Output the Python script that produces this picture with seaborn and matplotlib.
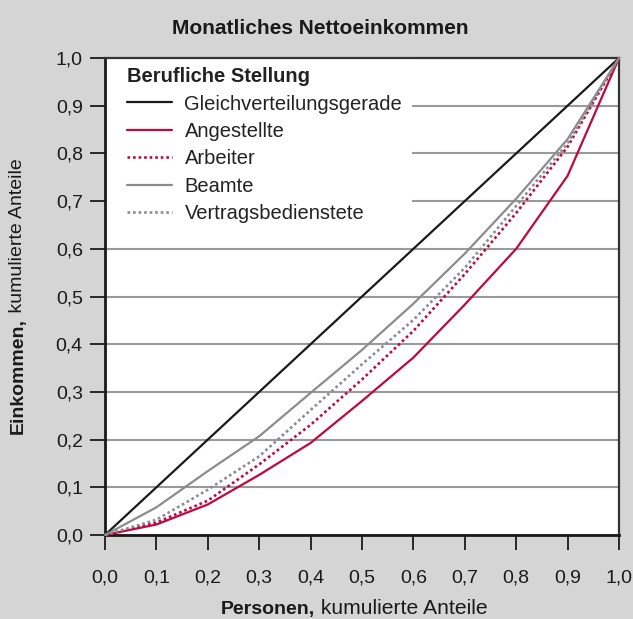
import matplotlib
matplotlib.use("Agg")
import matplotlib.pyplot as plt
import seaborn as sns
import pandas as pd
from matplotlib.patches import Rectangle

# ---- data ----
anteile = [0.0, 0.1, 0.2, 0.3, 0.4, 0.5, 0.6, 0.7, 0.8, 0.9, 1.0]
gleichverteilung = [0.0, 0.1, 0.2, 0.3, 0.4, 0.5, 0.6, 0.7, 0.8, 0.9, 1.0]
angestellte = [0.0, 0.022, 0.064, 0.126, 0.193, 0.281, 0.372, 0.483, 0.600, 0.753, 1.0]
arbeiter = [0.0, 0.026, 0.072, 0.148, 0.231, 0.326, 0.428, 0.547, 0.675, 0.814, 1.0]
beamte = [0.0, 0.058, 0.134, 0.207, 0.298, 0.388, 0.485, 0.590, 0.705, 0.830, 1.0]
vertragsbedienstete = [0.0, 0.032, 0.095, 0.165, 0.262, 0.358, 0.451, 0.560, 0.690, 0.821, 1.0]

series_names = ["Gleichverteilungsgerade", "Angestellte", "Arbeiter", "Beamte", "Vertragsbedienstete"]
series_values = [gleichverteilung, angestellte, arbeiter, beamte, vertragsbedienstete]
tick_values = [0.0, 0.1, 0.2, 0.3, 0.4, 0.5, 0.6, 0.7, 0.8, 0.9, 1.0]
tick_labels = ["0,0", "0,1", "0,2", "0,3", "0,4", "0,5", "0,6", "0,7", "0,8", "0,9", "1,0"]

title = "Monatliches Nettoeinkommen"
legend_title = "Berufliche Stellung"

# ---- styles ----
RED = "#c0073f"
styles = {
    "Gleichverteilungsgerade": dict(color="#1a1a1a", linestyle="-", linewidth=1.6),
    "Angestellte": dict(color=RED, linestyle="-", linewidth=1.6),
    "Arbeiter": dict(color=RED, linestyle=(0, (1.0, 1.1)), linewidth=1.9),
    "Beamte": dict(color="#8c8c8c", linestyle="-", linewidth=1.6),
    "Vertragsbedienstete": dict(color="#8c8c8c", linestyle=(0, (1.0, 1.1)), linewidth=1.9),
}

BG = "#d5d5d5"
TXT = "#1a1a1a"

sns.set_theme(style="white")
plt.rcParams["font.family"] = ["Liberation Sans", "DejaVu Sans"]

W, H = 633, 619
fig = plt.figure(figsize=(W / 100, H / 100), dpi=100, facecolor=BG)
ax = fig.add_axes([105 / W, 1 - 535 / H, (619 - 105) / W, (535 - 58) / H])
ax.set_facecolor("white")

df = pd.DataFrame({"x": anteile * len(series_names),
                   "y": sum(series_values, []),
                   "serie": sum([[n] * len(anteile) for n in series_names], [])})

for name in series_names:
    sub = df[df["serie"] == name]
    sns.lineplot(data=sub, x="x", y="y", ax=ax, label=name, clip_on=False,
                 zorder=3, **styles[name])

ax.set_xlim(0, 1)
ax.set_ylim(0, 1)
ax.set_xticks(tick_values)
ax.set_xticklabels(tick_labels)
ax.set_yticks(tick_values)
ax.set_yticklabels(tick_labels)
ax.set_xlabel("")
ax.set_ylabel("")

ax.yaxis.grid(True, color="#9a9a9a", linewidth=1.5, zorder=0.5)
ax.xaxis.grid(False)
ax.set_axisbelow(True)

ax.tick_params(axis="x", direction="out", length=11, width=1.3, color=TXT,
               labelsize=14, labelcolor=TXT, pad=14, bottom=True)
ax.tick_params(axis="y", direction="out", length=11, width=1.3, color=TXT,
               labelsize=14, labelcolor=TXT, pad=5, left=True)
for s in ax.spines.values():
    s.set_visible(True)
    s.set_color("#333333")
    s.set_linewidth(1.6)
ax.spines["left"].set_color(TXT)
ax.spines["bottom"].set_color(TXT)
ax.spines["left"].set_linewidth(2)
ax.spines["bottom"].set_linewidth(2)

# white area behind the legend
ax.add_patch(Rectangle((0, 0.65), 0.597, 0.35, transform=ax.transAxes,
                       facecolor="white", edgecolor="none", zorder=1))

leg = ax.legend(loc="upper left", bbox_to_anchor=(0.043, 0.981), frameon=False,
                title=legend_title, alignment="left",
                title_fontproperties={"weight": "bold", "size": 14.5},
                fontsize=14.5, handlelength=2.25, handletextpad=0.6,
                labelspacing=0.42, borderpad=0, borderaxespad=0)
for t in leg.get_texts():
    t.set_color("#222222")
leg.get_title().set_color("#222222")
leg.set_zorder(4)

fig.text(320 / W, 1 - 28 / H, title, ha="center", va="center",
         fontsize=15, fontweight="bold", color=TXT)

# mixed bold / regular axis labels
fig.canvas.draw()
r = fig.canvas.get_renderer()


def mixed(bold, rest, cx, cy, rotation, size_b, size_r):
    t1 = fig.text(0, 0, bold, fontsize=size_b, fontweight="bold", color=TXT)
    t2 = fig.text(0, 0, rest, fontsize=size_r, color=TXT)
    w1 = t1.get_window_extent(r).width
    w2 = t2.get_window_extent(r).width
    total = w1 + w2
    if rotation == 0:
        x0 = cx - total / 2
        t1.set_position((x0 / W, 1 - cy / H))
        t2.set_position(((x0 + w1) / W, 1 - cy / H))
        for t in (t1, t2):
            t.set_ha("left")
            t.set_va("baseline")
    else:
        y0 = (H - cy) - total / 2
        t1.set_position((cx / W, y0 / H))
        t2.set_position((cx / W, (y0 + w1) / H))
        for t in (t1, t2):
            t.set_rotation(90)
            t.set_ha("center")
            t.set_va("bottom")


mixed("Personen,", " kumulierte Anteile", 354, 614, 0, 14, 15.2)
mixed("Einkommen,", " kumulierte Anteile", 18, 296, 90, 14, 14)

fig.savefig("out.png", dpi=100, facecolor=BG)
